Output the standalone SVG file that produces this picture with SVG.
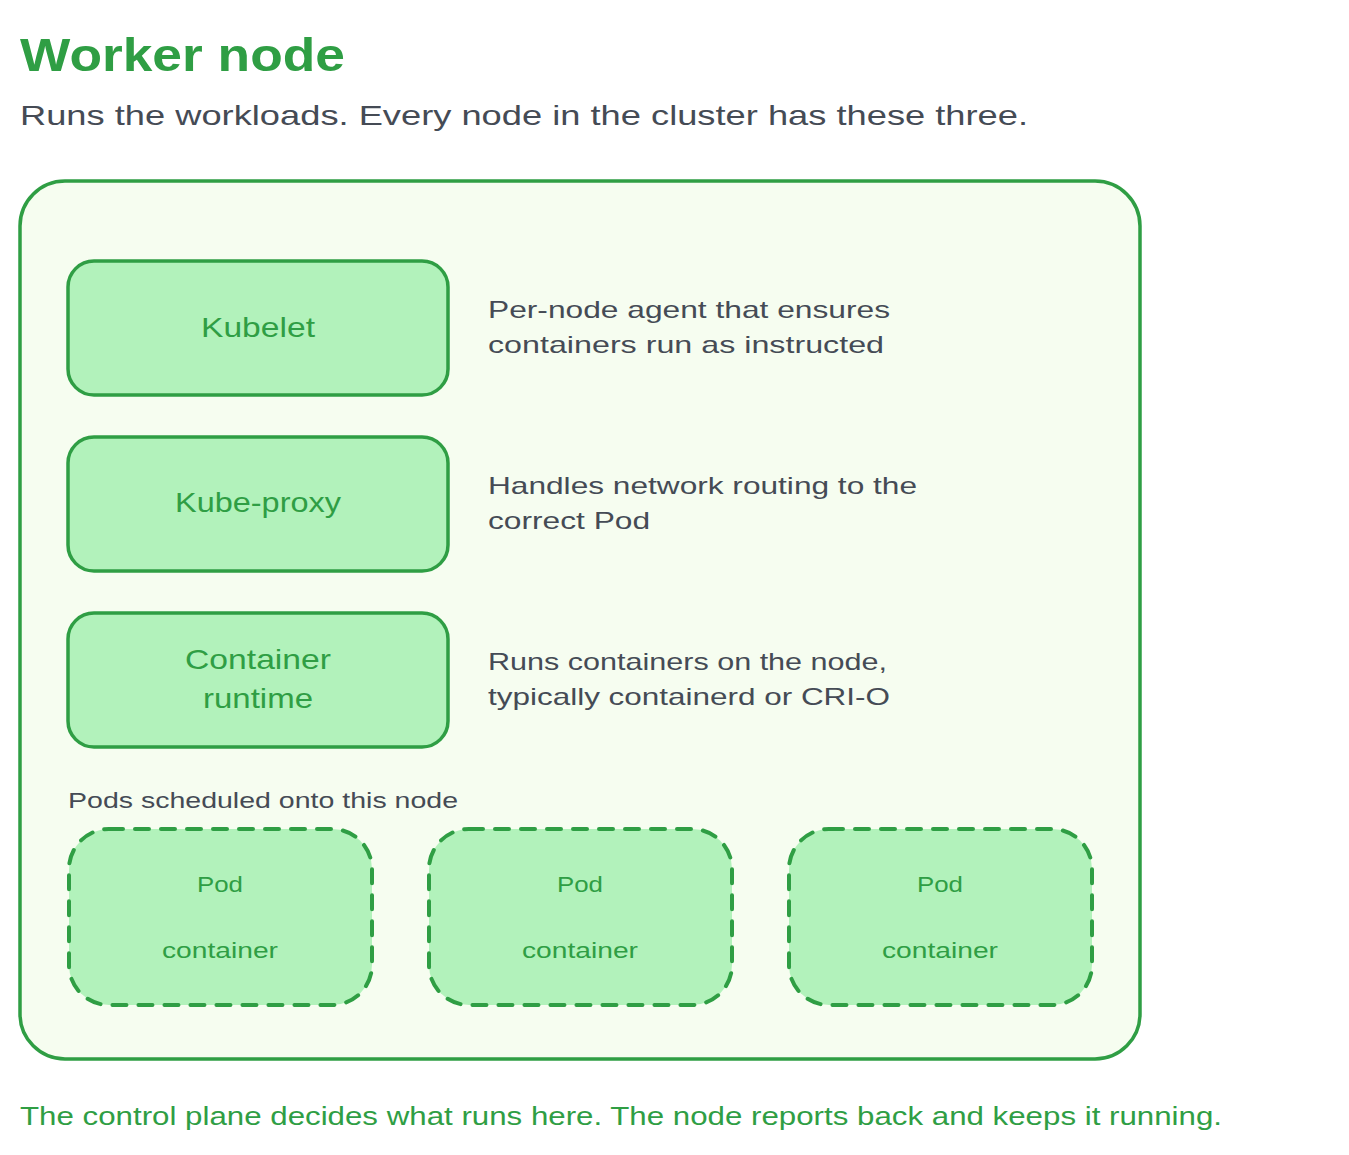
<svg xmlns="http://www.w3.org/2000/svg" width="1349" height="1155" viewBox="0 0 1349 1155">
<style>
text{font-family:"Liberation Sans","DejaVu Sans",sans-serif}
.g{fill:#2f9e44}
.d{fill:#454b55}
.box{fill:#b2f2bb;stroke:#2f9e44;stroke-width:3.5}
.pod{fill:#b2f2bb;stroke:#2f9e44;stroke-width:4;stroke-dasharray:14 12;stroke-linecap:round}
.c{text-anchor:middle}
</style>
<rect width="1349" height="1155" fill="#ffffff"/>
<text x="20" y="71" class="g" font-size="46" font-weight="bold" textLength="325" lengthAdjust="spacingAndGlyphs">Worker node</text>
<text x="20" y="125" class="d" font-size="28" textLength="1008" lengthAdjust="spacingAndGlyphs">Runs the workloads. Every node in the cluster has these three.</text>
<g id="worker-node">
<rect x="20" y="181" width="1120" height="878" rx="45" fill="#f6fdf0" stroke="#2f9e44" stroke-width="3.5"/>
</g>
<g id="kubelet">
<rect class="box" x="68" y="261" width="380" height="134" rx="26"/>
<text x="258" y="337" class="g c" font-size="28" textLength="114" lengthAdjust="spacingAndGlyphs">Kubelet</text>
</g>
<g id="kubelet-desc">
<text x="488" y="318" class="d" font-size="24" textLength="402" lengthAdjust="spacingAndGlyphs">Per-node agent that ensures</text>
<text x="488" y="353" class="d" font-size="24" textLength="396" lengthAdjust="spacingAndGlyphs">containers run as instructed</text>
</g>
<g id="kube-proxy">
<rect class="box" x="68" y="437" width="380" height="134" rx="26"/>
<text x="258" y="512" class="g c" font-size="28" textLength="166" lengthAdjust="spacingAndGlyphs">Kube-proxy</text>
</g>
<g id="kube-proxy-desc">
<text x="488" y="494" class="d" font-size="24" textLength="429" lengthAdjust="spacingAndGlyphs">Handles network routing to the</text>
<text x="488" y="529" class="d" font-size="24" textLength="162" lengthAdjust="spacingAndGlyphs">correct Pod</text>
</g>
<g id="container-runtime">
<rect class="box" x="68" y="613" width="380" height="134" rx="26"/>
<text x="258" y="669" class="g c" font-size="28" textLength="146" lengthAdjust="spacingAndGlyphs">Container</text>
<text x="258" y="708" class="g c" font-size="28" textLength="110" lengthAdjust="spacingAndGlyphs">runtime</text>
</g>
<g id="container-runtime-desc">
<text x="488" y="670" class="d" font-size="24" textLength="399" lengthAdjust="spacingAndGlyphs">Runs containers on the node,</text>
<text x="488" y="705" class="d" font-size="24" textLength="402" lengthAdjust="spacingAndGlyphs">typically containerd or CRI-O</text>
</g>
<text x="68" y="808" class="d" font-size="22" textLength="390" lengthAdjust="spacingAndGlyphs">Pods scheduled onto this node</text>
<g id="pod-1">
<rect class="pod" x="69" y="829" width="303" height="176" rx="40"/>
<text x="220" y="892" class="g c" font-size="22" textLength="46" lengthAdjust="spacingAndGlyphs">Pod</text>
<text x="220" y="958" class="g c" font-size="22" textLength="116" lengthAdjust="spacingAndGlyphs">container</text>
</g>
<g id="pod-2">
<rect class="pod" x="429" y="829" width="303" height="176" rx="40"/>
<text x="580" y="892" class="g c" font-size="22" textLength="46" lengthAdjust="spacingAndGlyphs">Pod</text>
<text x="580" y="958" class="g c" font-size="22" textLength="116" lengthAdjust="spacingAndGlyphs">container</text>
</g>
<g id="pod-3">
<rect class="pod" x="789" y="829" width="303" height="176" rx="40"/>
<text x="940" y="892" class="g c" font-size="22" textLength="46" lengthAdjust="spacingAndGlyphs">Pod</text>
<text x="940" y="958" class="g c" font-size="22" textLength="116" lengthAdjust="spacingAndGlyphs">container</text>
</g>
<g id="connectors"></g>
<text x="20" y="1125" class="g" font-size="26" textLength="1202" lengthAdjust="spacingAndGlyphs">The control plane decides what runs here. The node reports back and keeps it running.</text>
</svg>
